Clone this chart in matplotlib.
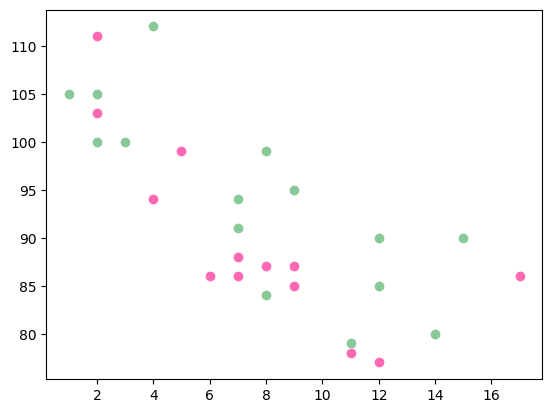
import matplotlib
matplotlib.use("Agg")
import matplotlib.pyplot as plt

# day one
x1 = [5, 7, 8, 7, 2, 17, 2, 9, 4, 11, 12, 9, 6]
y1 = [99, 86, 87, 88, 111, 86, 103, 87, 94, 78, 77, 85, 86]

# day two
x2 = [2, 2, 8, 1, 15, 8, 12, 9, 7, 3, 11, 4, 7, 14, 12]
y2 = [100, 105, 84, 105, 90, 99, 90, 95, 94, 100, 79, 112, 91, 80, 85]

fig = plt.figure(figsize=(6.4, 4.8), dpi=100)
plt.scatter(x1, y1, color='hotpink')
plt.scatter(x2, y2, color='#88c999')

plt.savefig('out.png', bbox_inches='tight')
